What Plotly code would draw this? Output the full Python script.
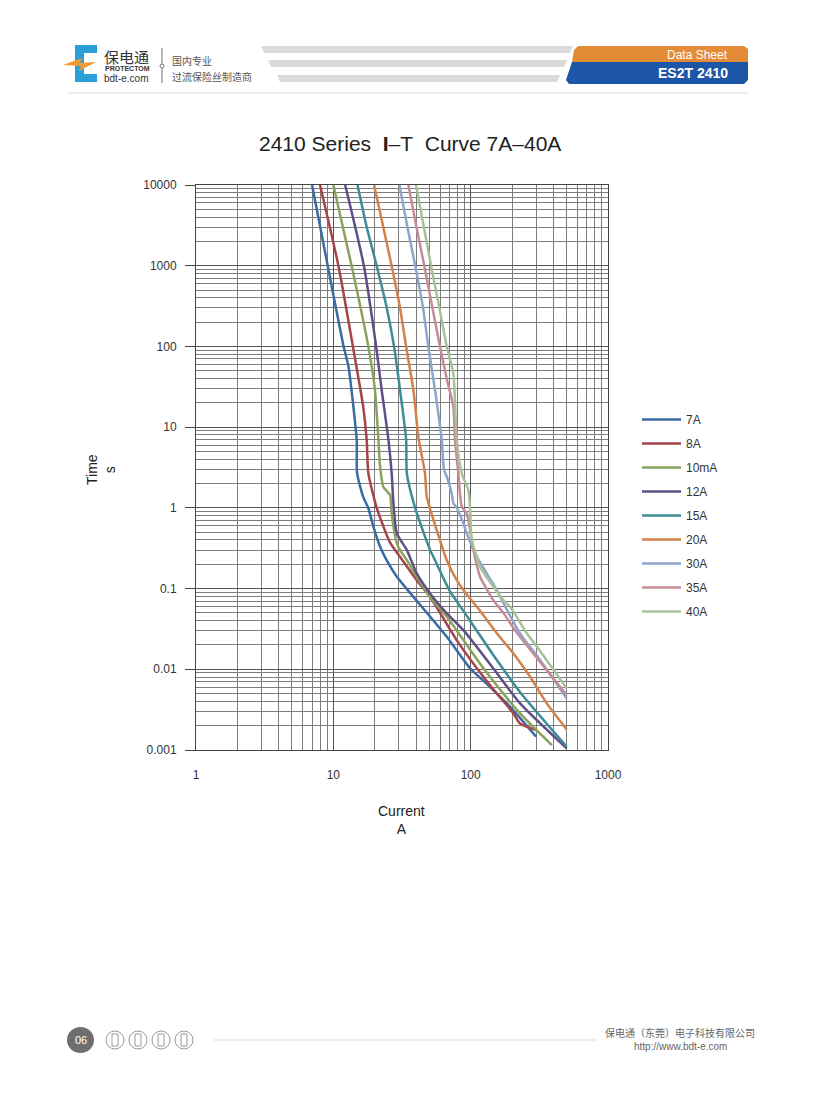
"""
2410 Series I-T curve (7A-40A) on a data-sheet page, log-log.
"""

import plotly.graph_objects as go

# page is drawn inside the browser's 8px body margin
W, H = 800, 1084
PLOT_L, PLOT_R, PLOT_T, PLOT_B = 196, 608, 185, 750   # page pixels
OFFSET = 8

FONT = "Liberation Sans, Arial, sans-serif"
CJK = "Noto Sans CJK SC, sans-serif"

# ── data: current (A) vs. melting time (s) ───────────────────────────────
LABELS = ["7A", "8A", "10mA", "12A", "15A", "20A", "30A", "35A", "40A"]

I_7A = [7.0, 9.1, 11.8, 12.9, 14.0, 14.8, 14.9, 16.5, 18.0, 19.6, 21.9, 25.2, 29.0,
        38.3, 50.6, 67, 99, 131, 194, 300]
T_7A = [10000, 1000, 105, 56, 17.9, 6.9, 2.67, 1.37, 0.99, 0.58, 0.33, 0.205, 0.14,
        0.079, 0.045, 0.0253, 0.0103, 0.0066, 0.00343, 0.00146]

I_8A = [8.0, 10.9, 13.9, 16.5, 17.5, 18.0, 20.7, 25.9, 29.5, 40.5, 50.6, 79,
        111, 155, 205, 229, 300]
T_8A = [10000, 991, 99, 17.9, 6.9, 2.67, 1.0, 0.37, 0.27, 0.127, 0.079, 0.023,
        0.0103, 0.0050, 0.00284, 0.00213, 0.00177]

I_10A = [10.0, 13.6, 18.0, 20.1, 21.3, 21.9, 23.1, 25.9, 26.6, 29.0, 30.6, 34.3, 40.5,
         50.6, 67.0, 124, 229, 390]
T_10A = [10000, 991, 99, 28.8, 6.9, 3.23, 1.83, 1.44, 0.855, 0.363, 0.30, 0.225, 0.14,
         0.079, 0.0448, 0.0103, 0.00284, 0.00115]

I_12A = [12.2, 16.7, 20.5, 22.5, 25.2, 26.6, 27.3, 29.0, 34.3, 40.5, 50.6, 67, 88.5,
         146, 229, 500]
T_12A = [10000, 991, 99, 28.8, 6.9, 2.67, 1.25, 0.483, 0.30, 0.154, 0.0871, 0.0493, 0.0306,
         0.0103, 0.00378, 0.00105]

I_15A = [15.0, 17.5, 20.7, 24.5, 27.7, 30.6, 33.9, 34.3, 39.4, 50.6, 53.5, 70.8,
         88.5, 155, 229, 500]
T_15A = [10000, 3020, 991, 300, 99, 28.8, 6.9, 2.67, 1.0, 0.30, 0.248, 0.092,
         0.0529, 0.013, 0.0052, 0.0011]

I_20A = [19.8, 23.1, 26.6, 30.6, 33.9, 38.3, 41.6, 46.5, 47.9, 56.6, 67, 79.2,
         88.5, 117, 155, 205, 271, 358, 500]
T_20A = [10000, 3020, 991, 300, 99, 28.8, 7.6, 2.67, 1.37, 0.531, 0.225, 0.127,
         0.0957, 0.053, 0.0279, 0.0157, 0.00807, 0.00378, 0.0018]

I_30A = [30.3, 34.6, 39.5, 45.0, 49.2, 55.0, 61.6, 64.0, 67.0, 72.8, 74.8, 79.2, 88.5,
         93.7, 110.8, 131, 155, 183, 229, 303, 390, 500]
T_30A = [10000, 3020, 991, 300, 99, 28.8, 6.9, 2.94, 2.43, 1.51, 1.14, 1.0, 0.643,
         0.483, 0.248, 0.154, 0.0957, 0.055, 0.0279, 0.0148, 0.0081, 0.00436]

I_35A = [35.2, 40.3, 46.0, 52.7, 59.8, 67.3, 74.8, 76.9, 81.3, 86.1, 93.7, 96.2, 104.7,
         117, 124, 146, 173, 205, 263, 500]
T_35A = [10000, 3020, 991, 300, 99, 38, 17.9, 6.9, 2.67, 1.04, 0.855, 0.72, 0.30,
         0.14, 0.116, 0.072, 0.05, 0.0325, 0.0187, 0.0048]

I_40A = [40.0, 45.6, 51.5, 59.2, 67, 74.8, 79.2, 86.1, 96.2, 99, 101.8, 110.8, 117,
         173, 194, 256, 294, 500]
T_40A = [10000, 3020, 991, 300, 99, 46, 6.9, 2.67, 1.66, 1.0, 0.399, 0.248, 0.186,
         0.0719, 0.0595, 0.0279, 0.0205, 0.0058]

CURRENTS = [I_7A, I_8A, I_10A, I_12A, I_15A, I_20A, I_30A, I_35A, I_40A]
TIMES = [T_7A, T_8A, T_10A, T_12A, T_15A, T_20A, T_30A, T_35A, T_40A]

X_TICKS = [1, 10, 100, 1000]
X_TICK_TEXT = ["1", "10", "100", "1000"]
Y_TICKS = [0.001, 0.01, 0.1, 1, 10, 100, 1000, 10000]
Y_TICK_TEXT = ["0.001", "0.01", "0.1", "1", "10", "100", "1000", "10000"]

COLORS = ["#3a6ba5", "#a6444a", "#88a45c", "#604f86", "#3d8c97",
          "#d2824a", "#8ea6ce", "#c68c96", "#a9c197"]


def px(x):
    return (x - PLOT_L) / (PLOT_R - PLOT_L)


def py(y):
    return (PLOT_B - y) / (PLOT_B - PLOT_T)


def poly(points):
    return "M" + " L".join(f"{px(x):.4f},{py(y):.4f}" for x, y in points) + " Z"


def minor_vals(lo, hi):
    return [m * 10.0 ** k for k in range(lo, hi) for m in range(2, 10)]


def text(s, x, y, size, color="#333", anchor="left", family=FONT, **kw):
    return dict(text=s, x=px(x), y=py(y), xref="paper", yref="paper",
                xanchor=anchor, yanchor="middle", showarrow=False,
                font=dict(size=size, color=color, family=family), **kw)


def shape(**kw):
    return dict(xref="paper", yref="paper", **kw)


def page_decor():
    shapes, notes = [], []
    # ── header ────────────────────────────────────────────────────────────
    shapes.append(shape(type="path", fillcolor="#2b9fd9", line_width=0,
                        path=poly([(75, 45), (97, 45), (97, 53), (84, 53), (84, 74),
                                   (97, 74), (97, 82), (75, 82)])))
    shapes.append(shape(type="path", fillcolor="#f29a2e", line_width=0,
                        path=poly([(63, 65), (82, 58), (80, 63), (96, 62), (79, 71), (81, 66)])))
    notes += [
        text("保电通", 102, 56, 15, "#333", family=CJK),
        text("<b>PROTECTOM</b>", 103, 69, 7, "#333"),
        text("bdt-e.com", 102, 78, 10, "#333"),
        text("国内专业", 170, 60, 10, "#555", family=CJK),
        text("过流保险丝制造商", 170, 76, 10, "#555", family=CJK),
    ]
    shapes.append(shape(type="line", x0=px(162), x1=px(162), y0=py(48), y1=py(83),
                        line=dict(color="#777", width=1)))
    shapes.append(shape(type="circle", x0=px(160), x1=px(164), y0=py(64), y1=py(68),
                        fillcolor="white", line=dict(color="#777", width=1)))
    for (xl, xr, y0, y1, d) in [(261, 573, 46, 53, 3), (268, 567, 60, 67, 3), (277, 560, 75, 82, 3)]:
        shapes.append(shape(type="path", fillcolor="#dadada", line_width=0,
                            path=poly([(xl, y0), (xr, y0), (xr - d, y1), (xl + d, y1)])))
    shapes.append(shape(type="path", fillcolor="#e38b37", line_width=0,
                        path=poly([(578, 46), (744, 46), (748, 49), (748, 62), (572, 62), (574, 50)])))
    shapes.append(shape(type="path", fillcolor="#1d56a6", line_width=0,
                        path=poly([(572, 62), (748, 62), (748, 80), (744, 84), (569, 84), (566, 80)])))
    notes += [
        text("Data Sheet", 730, 55, 12, "white", anchor="right"),
        text("<b>ES2T 2410</b>", 730, 73, 14, "white", anchor="right"),
    ]
    shapes.append(shape(type="line", x0=px(68), x1=px(748), y0=py(93), y1=py(93),
                        line=dict(color="#dddddd", width=1)))
    # ── footer ────────────────────────────────────────────────────────────
    shapes.append(shape(type="circle", x0=px(67), x1=px(94), y0=py(1027), y1=py(1053),
                        fillcolor="#6f6f6f", line_width=0))
    notes.append(text("06", 80.5, 1040, 11, "white", anchor="center"))
    for cx in [115, 138, 161, 184]:
        shapes.append(shape(type="circle", x0=px(cx - 9), x1=px(cx + 9), y0=py(1031), y1=py(1049),
                            line=dict(color="#999", width=1)))
        shapes.append(shape(type="rect", x0=px(cx - 3), x1=px(cx + 3), y0=py(1034), y1=py(1046),
                            line=dict(color="#999", width=1)))
    shapes.append(shape(type="line", x0=px(213), x1=px(597), y0=py(1040), y1=py(1040),
                        line=dict(color="#dddddd", width=1)))
    notes += [
        text("保电通（东莞）电子科技有限公司", 680, 1032, 10, "#666", anchor="center", family=CJK),
        text("http://www.bdt-e.com", 680, 1046, 10, "#666", anchor="center"),
    ]
    return shapes, notes


def build_figure() -> go.Figure:
    fig = go.Figure()
    for label, color, xs, ys in zip(LABELS, COLORS, CURRENTS, TIMES):
        fig.add_trace(go.Scatter(
            x=xs, y=ys, mode="lines", name=label, legendgroup=label,
            line=dict(color=color, width=2.5, shape="spline", smoothing=0.6),
        ))

    axis_common = dict(
        type="log", showgrid=True, gridcolor="#555555", gridwidth=1,
        showline=True, linecolor="#444", linewidth=1, mirror=True,
        zeroline=False, tickfont=dict(size=12, color="#333", family=FONT),
    )
    fig.update_xaxes(
        **axis_common, range=[0, 3], tickvals=X_TICKS, ticktext=X_TICK_TEXT,
        ticks="", ticklabelstandoff=14,
        minor=dict(tickvals=minor_vals(0, 3), showgrid=True, gridcolor="#7d7d7d", ticks=""),
    )
    fig.update_yaxes(
        **axis_common, range=[-3, 4], tickvals=Y_TICKS, ticktext=Y_TICK_TEXT,
        ticks="outside", ticklen=10, tickcolor="#444", ticklabelstandoff=6,
        minor=dict(tickvals=minor_vals(-3, 4), showgrid=True, gridcolor="#7d7d7d", ticks=""),
    )

    shapes, notes = page_decor()
    notes += [
        text("2410 Series\u00a0\u00a0<b>I</b>–T\u00a0\u00a0Curve 7A–40A", 410, 144, 21, "#222",
             anchor="center"),
        text("Current<br>A", 401, 820, 14, "#222", anchor="center"),
        text("Time<br>s", 101, 470, 14, "#222", anchor="center", textangle=-90),
    ]

    fig.update_layout(
        width=W, height=H,
        margin=dict(l=PLOT_L - OFFSET, r=W - (PLOT_R - OFFSET),
                    t=PLOT_T - OFFSET, b=H - (PLOT_B - OFFSET), pad=0),
        paper_bgcolor="white", plot_bgcolor="white",
        showlegend=True,
        legend=dict(x=px(637), y=py(405), xanchor="left", yanchor="top",
                    font=dict(size=12, color="#333", family=FONT),
                    itemwidth=39, tracegroupgap=5, bgcolor="rgba(0,0,0,0)"),
        shapes=shapes, annotations=notes,
    )
    return fig


def main() -> None:
    fig = build_figure()
    fig.write_html("out.html")


if __name__ == "__main__":
    main()
